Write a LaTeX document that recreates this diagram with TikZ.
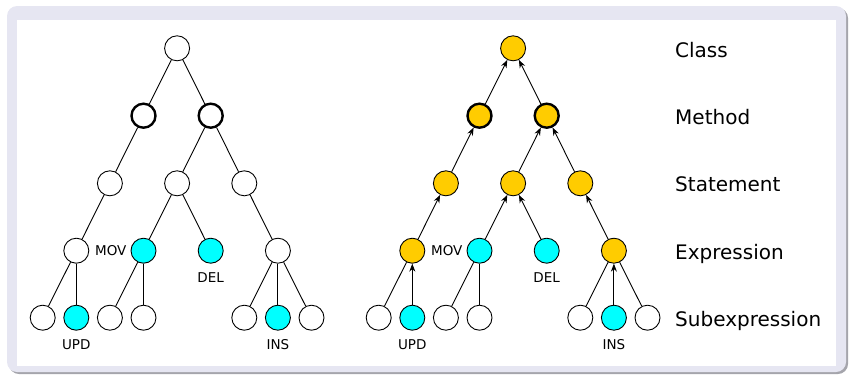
\documentclass[tikz,border=0pt]{standalone}
\usepackage{fontspec}
\setmainfont{DejaVu Sans}
\usetikzlibrary{arrows.meta}
\definecolor{framebg}{RGB}{230,230,242}
\definecolor{frameshadow}{RGB}{165,165,172}
\definecolor{nodeyellow}{RGB}{255,204,0}
\definecolor{nodecyan}{RGB}{0,255,255}
\begin{document}
\begin{tikzpicture}[x=1pt,y=-1pt,
  tnode/.style={circle,draw=black,line width=0.9pt,fill=white,minimum size=25pt,inner sep=0pt},
  methnode/.style={tnode,line width=2.4pt,minimum size=24pt},
  changed/.style={fill=nodecyan},
  marked/.style={fill=nodeyellow},
  edge/.style={draw=black,line width=0.9pt},
  upedge/.style={edge,-{Stealth[length=8pt,width=6pt]}},
  oplabel/.style={font=\fontsize{13.5}{15}\selectfont,anchor=base,inner sep=0pt},
  levellabel/.style={font=\fontsize{20}{23}\selectfont,anchor=base west,inner sep=0pt}
]
\useasboundingbox (0,0) rectangle (850,376);

% block frame with its shadow
\fill[frameshadow,rounded corners=10pt] (9,8) rectangle (848,374);
\fill[framebg,rounded corners=10pt] (7,6) rectangle (846,372);
\fill[white] (17,20) rectangle (836,366);

% ---------- left tree: the change set ----------
\node[tnode] (lc) at (177.1,48.3) {};
\node[methnode] (lm1) at (143.5,115.7) {};
\node[methnode] (lm2) at (210.7,115.7) {};
\node[tnode] (ls1) at (109.9,183.3) {};
\node[tnode] (ls2) at (177.1,183.3) {};
\node[tnode] (ls3) at (244.3,183.3) {};
\node[tnode] (le1) at (76.3,250.7) {};
\node[tnode,changed] (le2) at (143.5,250.7) {};
\node[tnode,changed] (le3) at (210.7,250.7) {};
\node[tnode] (le4) at (277.9,250.7) {};
\node[tnode] (lx1) at (42.7,317.7) {};
\node[tnode,changed] (lx2) at (76.3,317.7) {};
\node[tnode] (lx3) at (109.9,317.7) {};
\node[tnode] (lx4) at (143.5,317.7) {};
\node[tnode] (lx5) at (244.3,317.7) {};
\node[tnode,changed] (lx6) at (277.9,317.7) {};
\node[tnode] (lx7) at (311.5,317.7) {};

\draw[edge] (lc) -- (lm1);
\draw[edge] (lc) -- (lm2);
\draw[edge] (lm1) -- (ls1);
\draw[edge] (lm2) -- (ls2);
\draw[edge] (lm2) -- (ls3);
\draw[edge] (ls1) -- (le1);
\draw[edge] (ls2) -- (le2);
\draw[edge] (ls2) -- (le3);
\draw[edge] (ls3) -- (le4);
\draw[edge] (le1) -- (lx1);
\draw[edge] (le1) -- (lx2);
\draw[edge] (le2) -- (lx3);
\draw[edge] (le2) -- (lx4);
\draw[edge] (le4) -- (lx5);
\draw[edge] (le4) -- (lx6);
\draw[edge] (le4) -- (lx7);

\node[oplabel] (lmov) at (110.8,255.4) {MOV};
\node[oplabel] (ldel) at (210.7,282.0) {DEL};
\node[oplabel] (lupd) at (76.3,349.7) {UPD};
\node[oplabel] (lins) at (277.9,349.7) {INS};

% ---------- right tree: propagation to the ancestors ----------
\node[tnode,marked] (rc) at (513.1,48.3) {};
\node[methnode,marked] (rm1) at (479.5,115.7) {};
\node[methnode,marked] (rm2) at (546.7,115.7) {};
\node[tnode,marked] (rs1) at (445.9,183.3) {};
\node[tnode,marked] (rs2) at (513.1,183.3) {};
\node[tnode,marked] (rs3) at (580.3,183.3) {};
\node[tnode,marked] (re1) at (412.3,250.7) {};
\node[tnode,changed] (re2) at (479.5,250.7) {};
\node[tnode,changed] (re3) at (546.7,250.7) {};
\node[tnode,marked] (re4) at (613.9,250.7) {};
\node[tnode] (rx1) at (378.7,317.7) {};
\node[tnode,changed] (rx2) at (412.3,317.7) {};
\node[tnode] (rx3) at (445.9,317.7) {};
\node[tnode] (rx4) at (479.5,317.7) {};
\node[tnode] (rx5) at (580.3,317.7) {};
\node[tnode,changed] (rx6) at (613.9,317.7) {};
\node[tnode] (rx7) at (647.5,317.7) {};

\draw[upedge] (rm1) -- (rc);
\draw[upedge] (rm2) -- (rc);
\draw[upedge] (rs1) -- (rm1);
\draw[upedge] (rs2) -- (rm2);
\draw[upedge] (rs3) -- (rm2);
\draw[upedge] (re1) -- (rs1);
\draw[upedge] (re2) -- (rs2);
\draw[upedge] (re3) -- (rs2);
\draw[upedge] (re4) -- (rs3);
\draw[edge] (re1) -- (rx1);
\draw[upedge] (rx2) -- (re1);
\draw[edge] (re2) -- (rx3);
\draw[edge] (re2) -- (rx4);
\draw[edge] (re4) -- (rx5);
\draw[upedge] (rx6) -- (re4);
\draw[edge] (re4) -- (rx7);

\node[oplabel] (rmov) at (446.8,255.4) {MOV};
\node[oplabel] (rdel) at (546.7,282.0) {DEL};
\node[oplabel] (rupd) at (412.3,349.7) {UPD};
\node[oplabel] (rins) at (613.9,349.7) {INS};

% ---------- level names ----------
\node[levellabel] (lvc) at (675,57.0) {Class};
\node[levellabel] (lvm) at (675,124.3) {Method};
\node[levellabel] (lvs) at (675,191.9) {Statement};
\node[levellabel] (lve) at (675,259.3) {Expression};
\node[levellabel] (lvx) at (675,326.3) {Subexpression};
\end{tikzpicture}
\end{document}
